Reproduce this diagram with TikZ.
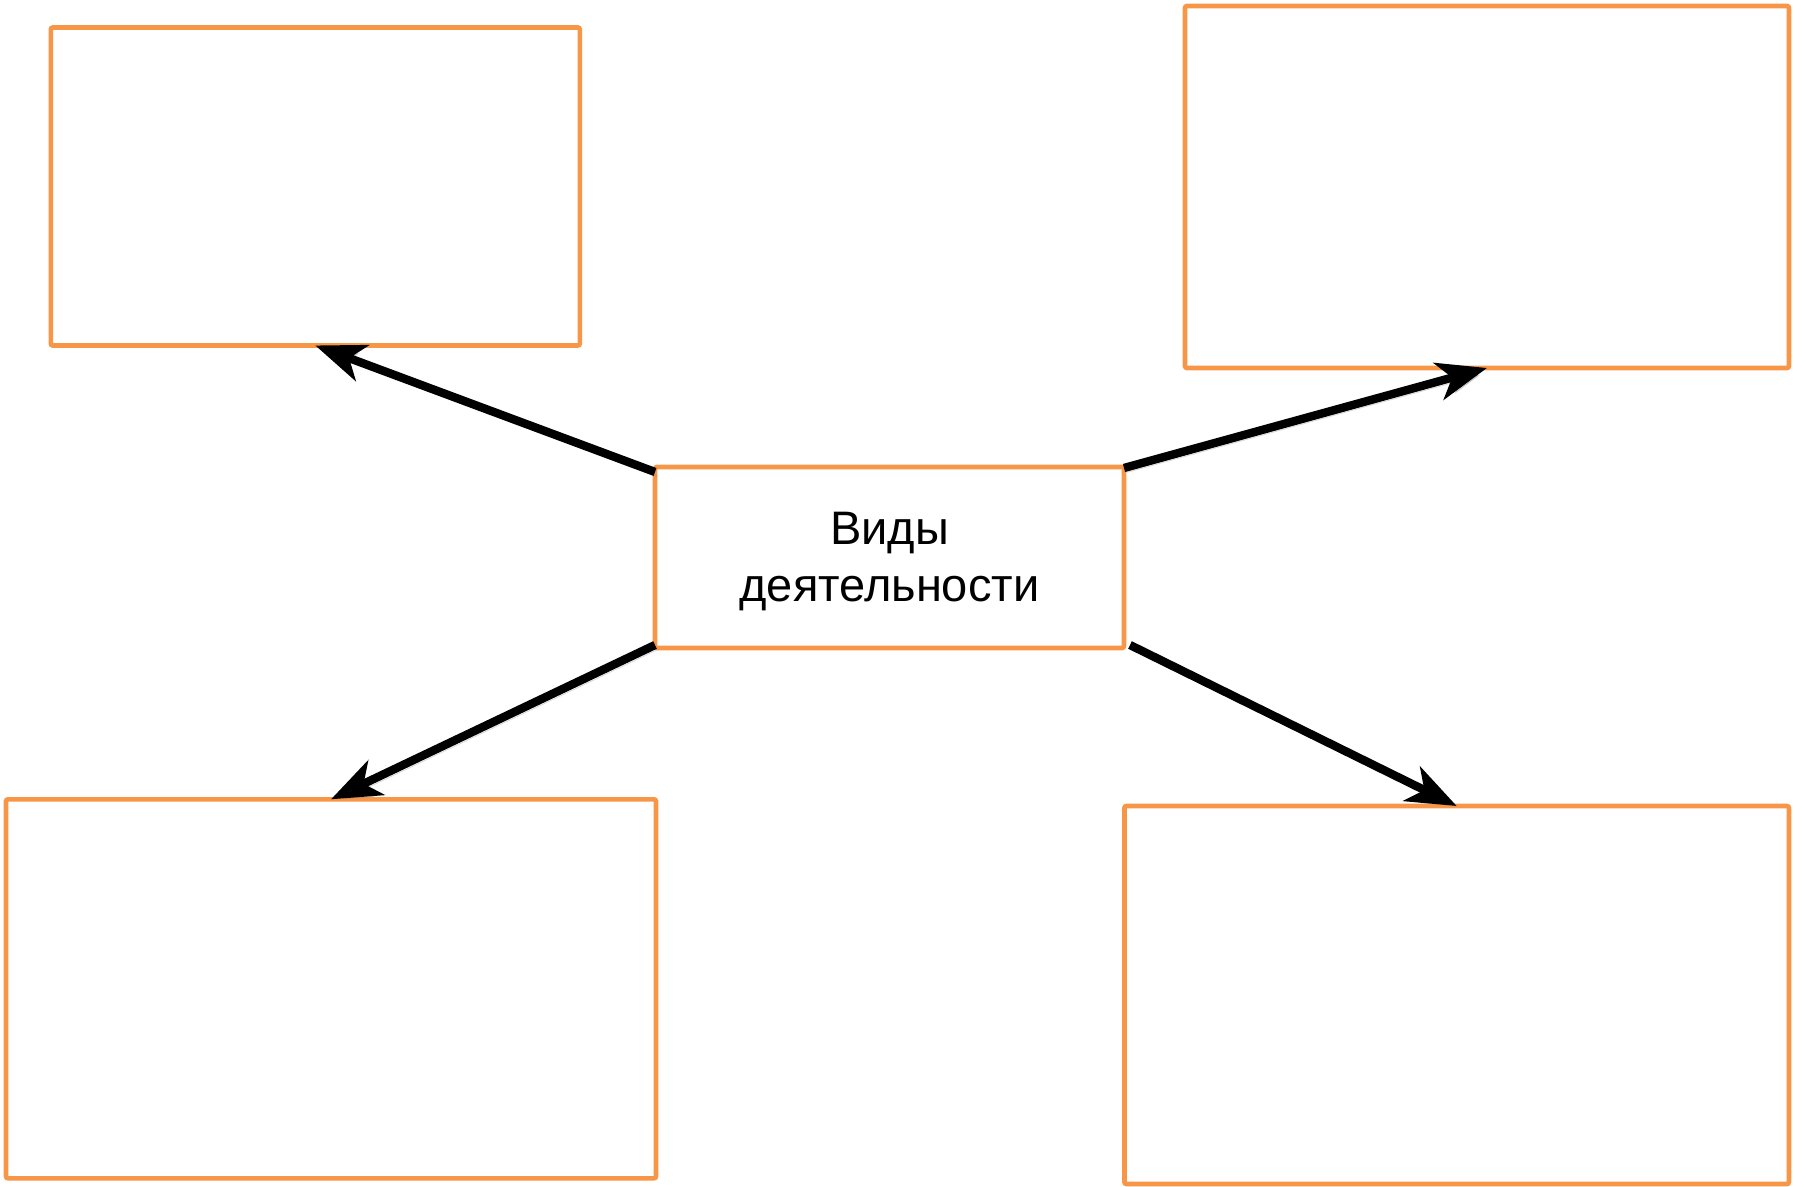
\documentclass[tikz,border=0pt]{standalone}
\usepackage{fontspec}
\setmainfont{Liberation Sans}
\usetikzlibrary{positioning, arrows.meta}
\definecolor{boxorange}{HTML}{F79646}

\begin{document}
\begin{tikzpicture}[x=0.5pt, y=-0.5pt]
    \useasboundingbox (0, 0) rectangle (1806, 1187);

    % Define styles
    \tikzset{
        emptybox/.style={draw=boxorange, line width=2.3pt, rounded corners=1pt,
            inner sep=0pt, outer sep=0pt},
        spoke/.style={line width=4.2pt, line cap=butt,
            -{Stealth[length=25pt, width=19pt, inset=7pt]},
            preaction={draw=black!45, opacity=0.35, transform canvas={shift={(1.5pt,-2.2pt)}}}}
    }

    % Define nodes
	\node[emptybox, minimum width=469pt*0.5, minimum height=181pt*0.5] (Activities) at (889.5, 557.5) {};
	\node[align=center, font=\fontsize{23.5pt}{28.3pt}\selectfont, yshift=-2pt] (ActivitiesText) at (Activities.center) {Виды\\деятельности};
	\node[emptybox, minimum width=529pt*0.5, minimum height=318pt*0.5] (TopLeft) at (315.3, 186.5) {};
	\node[emptybox, minimum width=604pt*0.5, minimum height=362pt*0.5] (TopRight) at (1487, 187) {};
	\node[emptybox, minimum width=650pt*0.5, minimum height=379pt*0.5] (BottomLeft) at (331, 988.8) {};
	\node[emptybox, minimum width=664.5pt*0.5, minimum height=378pt*0.5] (BottomRight) at (1456.7, 995) {};

    % Draw arrows from the centre box
	\draw[spoke] ([yshift=-2.5pt]Activities.north west) -- (TopLeft.south);
	\draw[spoke] ([yshift=-0.5pt]Activities.north east) -- (TopRight.south);
	\draw[spoke] ([yshift=1.5pt]Activities.south west) -- (BottomLeft.north);
	\draw[spoke] ([xshift=3pt, yshift=1.5pt]Activities.south east) -- (BottomRight.north);
\end{tikzpicture}
\end{document}
